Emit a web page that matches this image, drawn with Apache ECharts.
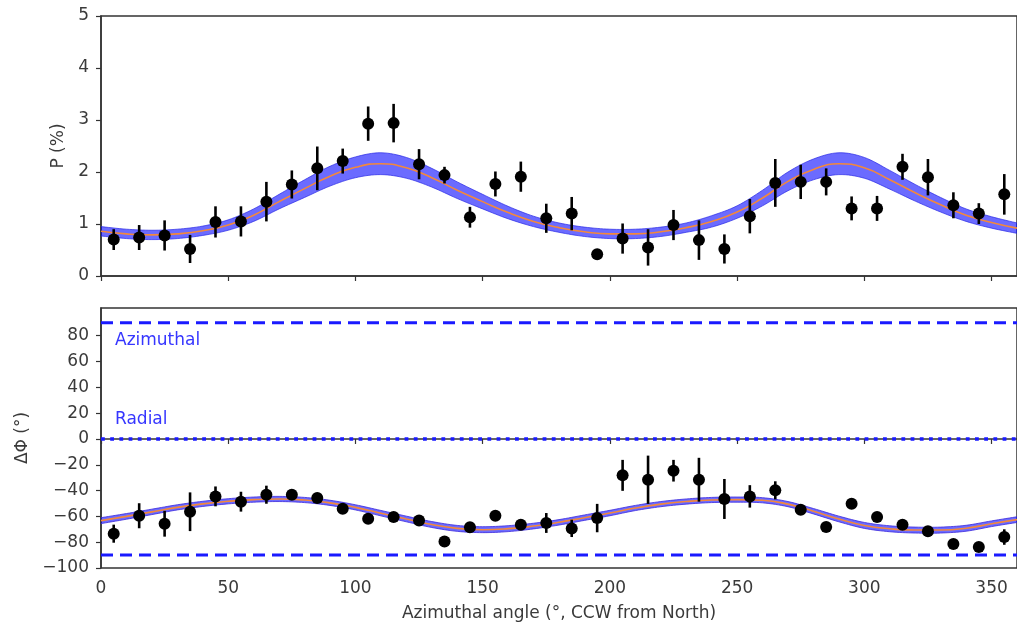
<!DOCTYPE html>
<html>
<head>
<meta charset="utf-8">
<script src="https://cdn.jsdelivr.net/npm/echarts@6/dist/echarts.min.js"></script>
<style>
html,body{margin:0;padding:0;background:#fff;}
#chart{width:1017px;height:625px;}
</style>
</head>
<body>
<div id="chart"></div>
<script>
// ---- data ----
const angles = [5,15,25,35,45,55,65,75,85,95,105,115,125,135,145,155,165,175,185,195,205,215,225,235,245,255,265,275,285,295,305,315,325,335,345,355];
const pValues = [0.70,0.74,0.78,0.52,1.04,1.05,1.43,1.76,2.07,2.21,2.93,2.94,2.15,1.94,1.13,1.77,1.91,1.11,1.20,0.42,0.72,0.55,0.98,0.69,0.52,1.15,1.79,1.81,1.81,1.30,1.30,2.10,1.90,1.36,1.20,1.57];
const pErrors = [0.20,0.24,0.29,0.27,0.30,0.29,0.38,0.27,0.42,0.24,0.33,0.37,0.29,0.16,0.20,0.24,0.29,0.28,0.32,0.08,0.29,0.35,0.29,0.38,0.28,0.33,0.46,0.33,0.26,0.23,0.24,0.25,0.35,0.25,0.20,0.39];
const dPhiValues = [-73.4,-59.5,-65.7,-56.4,-44.5,-48.6,-43.2,-43.2,-45.8,-54.0,-61.8,-60.5,-63.1,-79.4,-68.5,-59.5,-66.4,-65.1,-69.3,-61.3,-28.2,-31.6,-24.6,-31.6,-46.5,-44.5,-39.8,-54.8,-68.2,-50.2,-60.5,-66.4,-71.6,-81.4,-83.7,-76.0];
const dPhiErrors = [7,9.7,10,15,7.7,7.7,7,3,4,3,3,3,3,3,4,3,3,7.7,6.7,11,12,18.7,8.4,17,15.5,8.7,7,3,3,3,3,3,3,3,3,6];

const modelAngles = [0,10,20,30,40,50,60,70,80,90,100,110,120,130,140,150,160,170,180,190,200,210,220,230,240,250,260,270,280,290,300,310,320,330,340,350,360];
const pModel = [0.86,0.81,0.79,0.81,0.87,0.98,1.17,1.43,1.68,1.92,2.09,2.16,2.08,1.89,1.65,1.43,1.22,1.05,0.93,0.85,0.81,0.81,0.85,0.93,1.05,1.23,1.50,1.82,2.05,2.16,2.08,1.85,1.60,1.37,1.17,1.03,0.92];
const pUpper = [0.95,0.90,0.88,0.90,0.96,1.08,1.29,1.57,1.85,2.11,2.29,2.37,2.28,2.07,1.81,1.57,1.34,1.15,1.02,0.94,0.90,0.90,0.94,1.02,1.16,1.35,1.65,2.00,2.25,2.37,2.28,2.03,1.76,1.51,1.29,1.14,1.02];
const pLower = [0.77,0.72,0.70,0.72,0.78,0.88,1.05,1.29,1.51,1.73,1.89,1.95,1.88,1.71,1.49,1.29,1.10,0.95,0.84,0.76,0.72,0.72,0.76,0.84,0.94,1.11,1.35,1.64,1.85,1.95,1.88,1.67,1.44,1.23,1.05,0.92,0.82];
const dPhiModel = [-63.3,-60.0,-56.5,-53.0,-50.3,-48.3,-47.0,-46.5,-47.3,-49.5,-53.0,-57.5,-62.0,-66.3,-69.3,-70.3,-69.5,-67.5,-64.6,-61.0,-57.4,-53.5,-50.5,-48.5,-47.3,-47.0,-47.5,-50.5,-56.0,-62.0,-67.0,-69.6,-70.6,-70.6,-69.2,-65.7,-62.5];
const dPhiUpper = [-61.0,-57.8,-54.4,-51.0,-48.3,-46.3,-45.0,-44.5,-45.3,-47.5,-51.0,-55.4,-59.8,-64.0,-67.0,-68.0,-67.2,-65.3,-62.5,-58.9,-55.3,-51.5,-48.5,-46.5,-45.3,-45.0,-45.5,-48.5,-53.9,-59.8,-64.7,-67.3,-68.3,-68.3,-66.9,-63.5,-60.3];
const dPhiLower = [-65.6,-62.2,-58.6,-55.0,-52.3,-50.3,-49.0,-48.5,-49.3,-51.5,-55.0,-59.6,-64.2,-68.6,-71.6,-72.6,-71.8,-69.7,-66.7,-63.1,-59.5,-55.5,-52.5,-50.5,-49.3,-49.0,-49.5,-52.5,-58.1,-64.2,-69.3,-71.9,-72.9,-72.9,-71.5,-67.9,-64.7];

const xTicks = [0,50,100,150,200,250,300,350];
const pTicks = [0,1,2,3,4,5];
const dPhiTicks = [-100,-80,-60,-40,-20,0,20,40,60,80];
const dashedLevels = [90,-90];
const dottedLevels = [0];

// ---- chart ----
const FONT = 'DejaVu Sans';
const TXT = '#3a3a3a';
const SPINE = '#333';
const BLUE = '#1a1aff';
const fmtMinus = v => String(v).replace('-', '\u2212');

function pairs(xs, ys){ return xs.map((x,i)=>[x, ys[i]]); }

// Catmull-Rom subdivision of pixel points (rendering only)
function spline(pts, steps){
  const out = [];
  for (let i = 0; i < pts.length - 1; i++){
    const p0 = pts[Math.max(i-1,0)], p1 = pts[i], p2 = pts[i+1], p3 = pts[Math.min(i+2, pts.length-1)];
    for (let s = 0; s < steps; s++){
      const t = s/steps, t2 = t*t, t3 = t2*t;
      const f = (a,b,c,d)=>0.5*((2*b)+(-a+c)*t+(2*a-5*b+4*c-d)*t2+(-a+3*b-3*c+d)*t3);
      out.push([f(p0[0],p1[0],p2[0],p3[0]), f(p0[1],p1[1],p2[1],p3[1])]);
    }
  }
  out.push(pts[pts.length-1]);
  return out;
}

function bandSeries(gi, lower, upper, edgeColor){
  return {type:'custom', xAxisIndex:gi, yAxisIndex:gi, z:2, silent:true,
    data:[[modelAngles[0], lower[0]]], encode:{x:0, y:1},
    renderItem:(params, api)=>{
      const up = spline(modelAngles.map((x,i)=>api.coord([x, upper[i]])), 8);
      const lo = spline(modelAngles.map((x,i)=>api.coord([x, lower[i]])), 8);
      const poly = up.concat(lo.slice().reverse());
      return {type:'group', children:[
        {type:'polygon', shape:{points:poly}, style:{fill:'rgba(0,0,255,0.58)', stroke:null}},
        {type:'polyline', shape:{points:up}, style:{stroke:edgeColor, lineWidth:1, fill:null}},
        {type:'polyline', shape:{points:lo}, style:{stroke:edgeColor, lineWidth:1, fill:null}}
      ]};
    }};
}
function errSeries(gi, vals, errs){
  return {type:'custom', xAxisIndex:gi, yAxisIndex:gi, z:4,
    data: angles.map((a,i)=>[a, vals[i], errs[i]]),
    encode:{x:0, y:1},
    renderItem:(params, api)=>{
      const x = api.value(0), y = api.value(1), e = api.value(2);
      const p1 = api.coord([x, y-e]), p2 = api.coord([x, y+e]);
      return {type:'line', shape:{x1:p1[0], y1:p1[1], x2:p2[0], y2:p2[1]}, style:{stroke:'#000', lineWidth:2.6}};
    }};
}
function pointSeries(gi, vals){
  return {type:'scatter', xAxisIndex:gi, yAxisIndex:gi, z:5, symbol:'circle', symbolSize:12,
    itemStyle:{color:'#000', opacity:1}, data: pairs(angles, vals)};
}
function modelSeries(gi, vals){
  return {type:'line', xAxisIndex:gi, yAxisIndex:gi, z:3, symbol:'none', smooth:true,
    data: pairs(modelAngles, vals), lineStyle:{color:'#f3883c', width:1.6}};
}
function levelSeries(levels, dash, width){
  return levels.map(l=>({type:'line', xAxisIndex:1, yAxisIndex:1, z:1, symbol:'none',
    data:[[0,l],[360,l]], lineStyle:{color:BLUE, width:width, type:dash, cap:'butt'}}));
}

const xAxisBase = {
  type:'value', min:0, max:360, interval:50,
  axisLine:{show:true, lineStyle:{color:SPINE, width:1.5}},
  axisTick:{show:true, length:5, customValues:xTicks, lineStyle:{color:SPINE, width:1.2}},
  splitLine:{show:false}
};

const option = {
  animation:false,
  backgroundColor:'#fff',
  textStyle:{fontFamily:FONT},
  grid:[
    {left:101, right:-7, top:16, height:260, show:true, borderColor:SPINE, borderWidth:1.5, backgroundColor:'transparent'},
    {left:101, right:-7, top:308, height:260, show:true, borderColor:SPINE, borderWidth:1.5, backgroundColor:'transparent'}
  ],
  xAxis:[
    Object.assign({}, xAxisBase, {gridIndex:0, axisLabel:{show:false}}),
    Object.assign({}, xAxisBase, {gridIndex:1,
      axisLabel:{show:true, customValues:xTicks, color:TXT, fontSize:17, fontFamily:FONT, margin:12},
      name:'Azimuthal angle (\u00b0, CCW from North)', nameLocation:'middle', nameGap:37,
      nameTextStyle:{color:TXT, fontSize:17, fontFamily:FONT}})
  ],
  yAxis:[
    {type:'value', gridIndex:0, min:0, max:5, interval:1,
     axisLine:{show:true, lineStyle:{color:SPINE, width:1.5}},
     axisTick:{show:true, length:5, customValues:pTicks, lineStyle:{color:SPINE, width:1.2}},
     axisLabel:{customValues:pTicks, color:TXT, fontSize:17, fontFamily:FONT, margin:12},
     splitLine:{show:false},
     name:'P (%)', nameLocation:'middle', nameGap:33,
     nameTextStyle:{color:TXT, fontSize:17, fontFamily:FONT}},
    {type:'value', gridIndex:1, min:-100, max:101.5, interval:20,
     axisLine:{show:true, lineStyle:{color:SPINE, width:1.5}},
     axisTick:{show:true, length:5, customValues:dPhiTicks, lineStyle:{color:SPINE, width:1.2}},
     axisLabel:{customValues:dPhiTicks, color:TXT, fontSize:17, fontFamily:FONT, margin:12, formatter:fmtMinus},
     splitLine:{show:false},
     name:'\u0394\u03a6 (\u00b0)', nameLocation:'middle', nameGap:69,
     nameTextStyle:{color:TXT, fontSize:17, fontFamily:FONT}}
  ],
  graphic:[
    {type:'text', left:115, top:332, style:{text:'Azimuthal', fill:'#3636ff', font:'17px "DejaVu Sans"'}},
    {type:'text', left:115, top:411, style:{text:'Radial', fill:'#3636ff', font:'17px "DejaVu Sans"'}}
  ],
  series:[
    bandSeries(0, pLower, pUpper, 'rgba(40,40,230,0.7)'),
    modelSeries(0, pModel),
    errSeries(0, pValues, pErrors),
    pointSeries(0, pValues),
    ...levelSeries(dashedLevels, [12,7], 3),
    ...levelSeries(dottedLevels, [3.8,5.4], 3.6),
    bandSeries(1, dPhiLower, dPhiUpper, 'rgba(60,40,220,0.8)'),
    modelSeries(1, dPhiModel),
    errSeries(1, dPhiValues, dPhiErrors),
    pointSeries(1, dPhiValues)
  ]
};

const chart = echarts.init(document.getElementById('chart'), null, {renderer:'canvas'});
chart.setOption(option);
</script>
</body>
</html>
